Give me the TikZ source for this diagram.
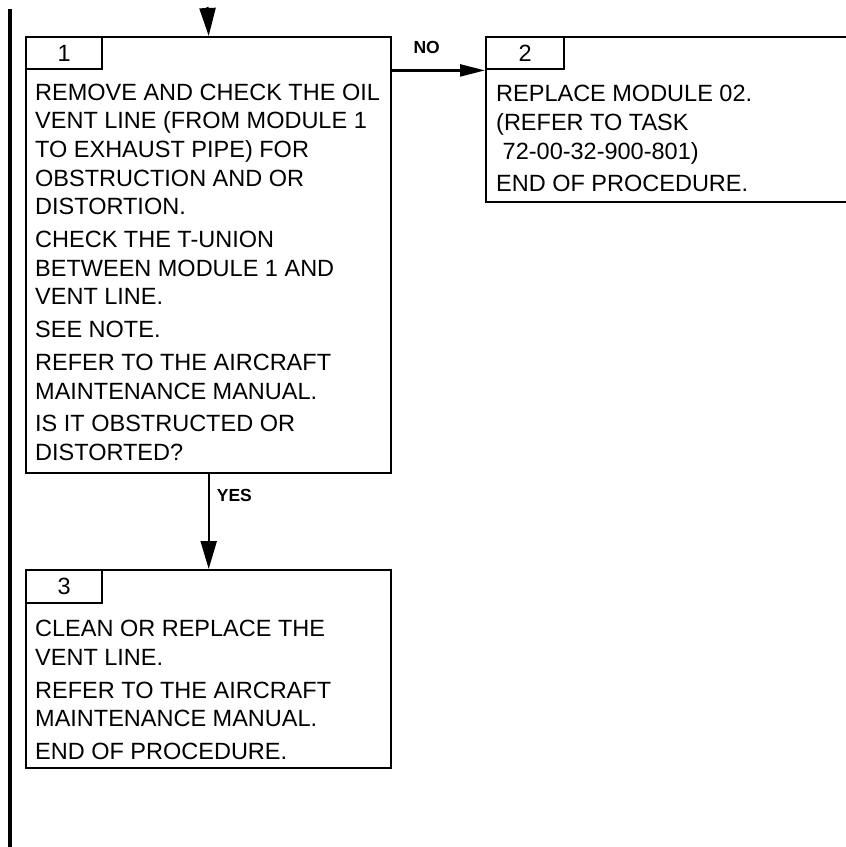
\documentclass[tikz,border=0pt]{standalone}
\usepackage{fontspec}
\setmainfont{Liberation Sans}
\usetikzlibrary{arrows.meta}
\begin{document}
\begin{tikzpicture}[x=1pt,y=-1pt,
  box/.style={draw,line width=2.4pt,rectangle,inner sep=0pt,anchor=north west},
  numbox/.style={draw,line width=2.4pt,rectangle,inner sep=0pt,anchor=north west,
    minimum width=76pt,minimum height=32pt,font=\fontsize{23.5}{28}\selectfont},
  body/.style={anchor=base west,inner sep=0pt,font=\fontsize{23.5}{28.7}\selectfont},
  vflow/.style={line width=2.2pt,-{Triangle[length=28pt,width=16pt]}},
  hflow/.style={line width=2.2pt,-{Triangle[length=25pt,width=12pt]}},
  lbl/.style={inner sep=0pt,anchor=base west,font=\fontsize{17.5}{20}\selectfont\bfseries},
  bar/.style={line width=4.5pt}]
\useasboundingbox (0,0) rectangle (846,847);
\begin{scope}
\clip (0,0) rectangle (846,847);
% left change bar
\draw[bar] (10,9) -- (10,847);
% boxes
\node[box,minimum width=365pt,minimum height=436pt] (box1) at (25,36) {};
\node[box,minimum width=390pt,minimum height=165pt] (box2) at (485,36) {};
\node[box,minimum width=365pt,minimum height=198pt] (box3) at (25,569) {};
% number boxes
\node[numbox] (num1) at (25,36) {1};
\node[numbox,minimum width=78pt] (num2) at (485,36) {2};
\node[numbox,minimum height=33pt] (num3) at (25,569) {3};
% texts
\node[body] (txt1) at (35,100) {\parbox[t]{352pt}{\raggedright
REMOVE AND CHECK THE OIL\\
VENT LINE (FROM MODULE 1\\
TO EXHAUST PIPE) FOR\\
OBSTRUCTION AND OR\\
DISTORTION.\\[4pt]
CHECK THE T-UNION\\
BETWEEN MODULE 1 AND\\
VENT LINE.\\[4pt]
SEE NOTE.\\[4pt]
REFER TO THE AIRCRAFT\\
MAINTENANCE MANUAL.\\[4pt]
IS IT OBSTRUCTED OR\\
DISTORTED?}};
\node[body] (txt2) at (496,101.7) {\parbox[t]{340pt}{\raggedright
REPLACE MODULE 02.\\
(REFER TO TASK\\
\ 72-00-32-900-801)\\[4pt]
END OF PROCEDURE.}};
\node[body] (txt3) at (35,636.7) {\parbox[t]{352pt}{\raggedright
CLEAN OR REPLACE THE\\
VENT LINE.\\[4pt]
REFER TO THE AIRCRAFT\\
MAINTENANCE MANUAL.\\[4pt]
END OF PROCEDURE.}};
% connectors
\coordinate (in1) at (207.5,7);
\draw[vflow] (in1) -- (box1.north);
\draw[hflow] (box1.east |- num2.south) -- (num2.south west);
\draw[vflow] (box1.south) -- (box3.north);
% connector labels
\node[lbl] (no) at (413.3,53) {NO};
\node[lbl] (yes) at (216.7,501.7) {YES};
\end{scope}
\end{tikzpicture}
\end{document}
